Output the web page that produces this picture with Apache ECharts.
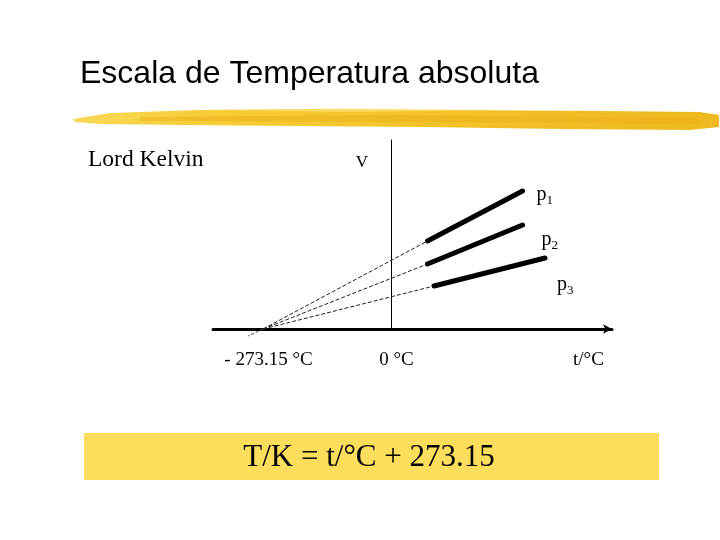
<!DOCTYPE html>
<html>
<head>
<meta charset="utf-8">
<script src="https://cdn.jsdelivr.net/npm/echarts@6/dist/echarts.min.js"></script>
<style>html,body{margin:0;padding:0;background:#fff}#c{width:720px;height:540px}</style>
</head>
<body>
<div id="c"></div>
<script>
// ---- data ----
var absoluteZero = -273.15;
var seriesNames = ['p1', 'p2', 'p3'];
var p1Measured = [[78, 88], [281, 138]];
var p2Measured = [[78, 65], [281, 104]];
var p3Measured = [[92, 43], [329, 71]];
var belowZeroTail = [[absoluteZero, 0], [-305, -7]];
var tickValues = [-273.15, 0, 410];
var tickLabels = ['- 273.15 \u00B0C', '0 \u00B0C', 't/\u00B0C'];
var xRange = [-380, 472];
var yRange = [0, 189];

var measured = [p1Measured, p2Measured, p3Measured];
var labelOffsets = [[14, 4], [19, 15], [12, 27]];
var serif = '"Liberation Serif", "Times New Roman", serif';

var series = [];
measured.forEach(function (pts, i) {
  series.push({
    type: 'line', name: seriesNames[i] + ' extrapolated', data: [[absoluteZero, 0], pts[0]],
    symbol: 'none', silent: true, z: 2,
    lineStyle: { color: '#222', width: 1, type: [4, 2] }
  });
  series.push({
    type: 'line', name: seriesNames[i], data: pts, symbol: 'none', z: 3,
    lineStyle: { color: '#000', width: 5, cap: 'round' },
    endLabel: {
      show: true, distance: 0, offset: labelOffsets[i], align: 'left',
      formatter: '{p|p}{s|' + seriesNames[i].slice(1) + '}',
      rich: {
        p: { fontFamily: serif, fontSize: 20, color: '#000' },
        s: { fontFamily: serif, fontSize: 13, color: '#000', verticalAlign: 'bottom', padding: [12, 0, 0, 0] }
      }
    }
  });
});
series.push({
  type: 'line', data: belowZeroTail, symbol: 'none', clip: false, silent: true,
  lineStyle: { color: '#444', width: 1, type: [3, 2] }
});

var chart = echarts.init(document.getElementById('c'), null, { renderer: 'canvas' });
chart.setOption({
  backgroundColor: '#fff',
  animation: false,
  grid: { left: 213, right: 108, top: 140, bottom: 211 },
  xAxis: {
    type: 'value', min: xRange[0], max: xRange[1],
    axisLine: { onZero: true, symbol: ['none', 'arrow'], symbolSize: [7, 9], lineStyle: { color: '#000', width: 3 } },
    axisTick: { show: false },
    splitLine: { show: false },
    axisLabel: {
      customValues: tickValues, margin: 22,
      fontFamily: serif, fontSize: 19, color: '#000',
      formatter: function (v) {
        for (var k = 0; k < tickValues.length; k++) if (Math.abs(tickValues[k] - v) < 1e-6) return '{a|' + tickLabels[k] + '}';
        return '';
      },
      rich: { a: { fontFamily: serif, fontSize: 19, color: '#000', padding: [0, 0, 0, 11] } }
    }
  },
  yAxis: {
    type: 'value', min: yRange[0], max: yRange[1],
    axisLine: { show: true, onZero: true, lineStyle: { color: '#000', width: 1 } },
    axisTick: { show: false }, axisLabel: { show: false }, splitLine: { show: false }
  },
  graphic: [
    { type: 'text', left: 80, top: 58, style: { text: 'Escala de Temperatura absoluta', font: '32px "Liberation Sans", Arial, sans-serif', fill: '#000' } },
    { type: 'polygon', z: -1, shape: { points: [[73,119],[110,113],[200,110],[320,109],[450,110],[600,111],[700,112],[719,115],[719,127],[690,130],[560,129],[420,127],[300,126],[180,125],[100,124],[75,122]] },
      style: { fill: new echarts.graphic.LinearGradient(0, 0, 1, 0, [
        { offset: 0, color: '#F9D95A' }, { offset: 0.2, color: '#F6CD38' }, { offset: 0.55, color: '#F3C42A' }, { offset: 1, color: '#EFB81F' }]) } },
    { type: 'polygon', z: -1, shape: { points: [[140,117],[400,115],[700,118],[700,124],[400,122],[140,121]] }, style: { fill: 'rgba(235,175,20,0.5)' } },
    { type: 'polygon', z: -1, shape: { points: [[200,110],[350,108.5],[500,110],[350,112]] }, style: { fill: 'rgba(250,225,120,0.7)' } },
    { type: 'text', left: 88, top: 148, style: { text: 'Lord Kelvin', font: '23.5px ' + serif, fill: '#000' } },
    { type: 'text', x: 362, y: 163, style: { text: 'V', font: '17px ' + serif, fill: '#000', align: 'center', verticalAlign: 'middle' } },
    { type: 'rect', z: -1, shape: { x: 84, y: 433, width: 575, height: 47 }, style: { fill: '#FDDD5C' } },
    { type: 'text', x: 369, y: 458, style: { text: 'T/K = t/\u00B0C + 273.15', font: '31px ' + serif, fill: '#000', align: 'center', verticalAlign: 'middle' } }
  ],
  series: series
});
</script>
</body>
</html>
